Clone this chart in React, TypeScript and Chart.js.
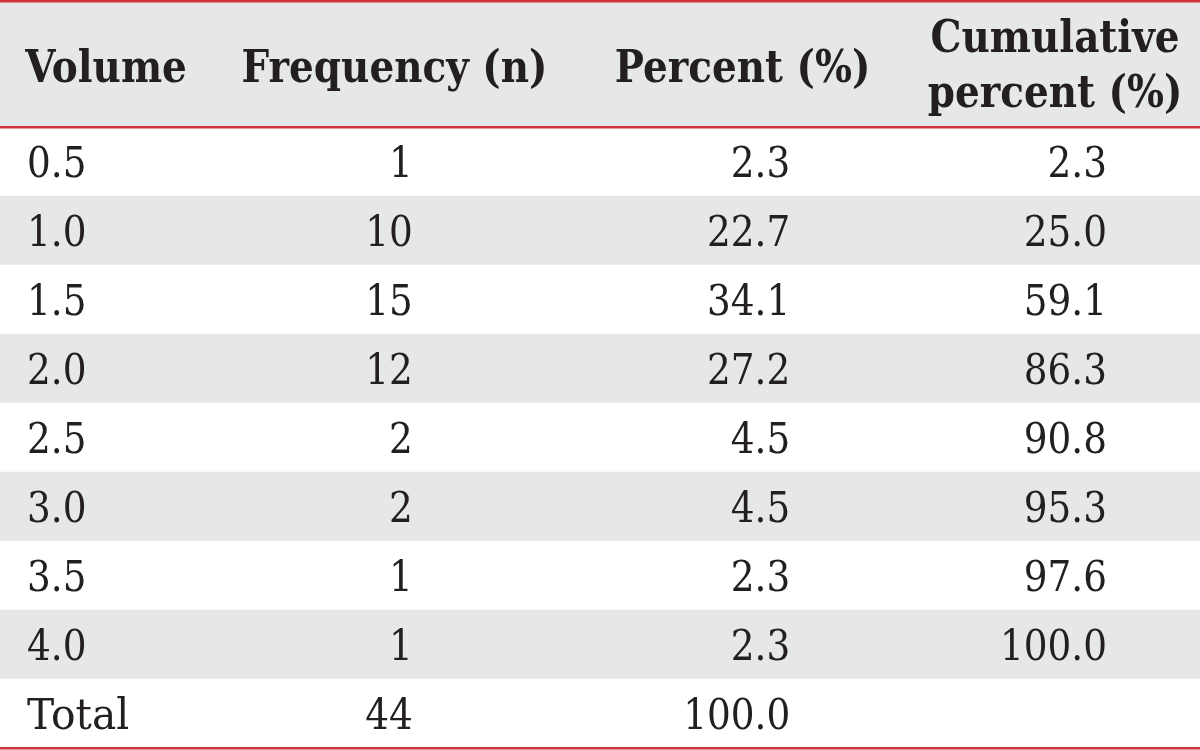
import React, { useEffect, useRef } from "react";
import { Chart, registerables } from "chart.js";

Chart.register(...registerables);

// ---- data ----
const volumes = ["0.5", "1.0", "1.5", "2.0", "2.5", "3.0", "3.5", "4.0"];
const frequency = [1, 10, 15, 12, 2, 2, 1, 1];
const percent = [2.3, 22.7, 34.1, 27.2, 4.5, 4.5, 2.3, 2.3];
const cumulative = [2.3, 25.0, 59.1, 86.3, 90.8, 95.3, 97.6, 100.0];
const totalLabel = "Total";
const totalFrequency = 44;
const totalPercent = 100.0;
const headers = [["Volume"], ["Frequency (n)"], ["Percent (%)"], ["Cumulative", "percent (%)"]];

// ---- layout / style ----
const HEADER_ROWS = 1.83;
const ROW_COUNT = volumes.length + 1;
const GRAY = "#e6e7e9";
const RED = "#d1343d";
const INK = "#231f20";
const FONT_FAMILY = "'DejaVu Serif', 'Liberation Serif', serif";
const BODY_SIZE = 42.5;
const HEAD_SIZE = 44;
const BODY_SQUEEZE = 0.88;
const HEAD_SQUEEZE = 0.885;
// column anchors in % of the table width
const COL_LEFT = 2.25; // left-aligned first column
const COL_RIGHT = [34.4, 65.85, 92.25]; // right-aligned value columns
const HEAD_LEFT = 2.1;
const HEAD_CENTER = [0, 32.88, 61.88, 87.92];

export default function App() {
  const canvasRef = useRef<HTMLCanvasElement | null>(null);

  useEffect(() => {
    document.body.style.margin = "0";
    const canvas = canvasRef.current;
    if (!canvas) return;

    const rowCenters = Array.from({ length: ROW_COUNT }, (_, i) => HEADER_ROWS + i + 0.5);
    const rowColors = rowCenters.map((_, i) => (i % 2 === 1 ? GRAY : "#ffffff"));

    const drawText = (ctx: CanvasRenderingContext2D, text: string, px: number, py: number, align: CanvasTextAlign, sx: number) => {
      ctx.save();
      ctx.translate(px, py);
      ctx.scale(sx, 1);
      ctx.textAlign = align;
      ctx.fillText(text, 0, 0);
      ctx.restore();
    };

    const tablePlugin = {
      id: "tableText",
      beforeDatasetsDraw(chart: any) {
        const { ctx, scales } = chart;
        const x = scales.x;
        const y = scales.y;
        ctx.save();
        ctx.fillStyle = GRAY;
        const top = y.getPixelForValue(0);
        const bottom = y.getPixelForValue(HEADER_ROWS);
        ctx.fillRect(x.getPixelForValue(0), top, x.getPixelForValue(100) - x.getPixelForValue(0), bottom - top);
        ctx.restore();
      },
      afterDatasetsDraw(chart: any) {
        const { ctx, scales } = chart;
        const x = scales.x;
        const y = scales.y;
        ctx.save();
        ctx.fillStyle = INK;
        ctx.textBaseline = "alphabetic";
        // header
        ctx.font = `bold ${HEAD_SIZE}px ${FONT_FAMILY}`;
        const hc = (y.getPixelForValue(0) + y.getPixelForValue(HEADER_ROWS)) / 2;
        headers.forEach((lines, ci) => {
          const offsets = lines.length === 1 ? [0.4] : [-0.28, 0.98];
          lines.forEach((line, li) => {
            const by = hc + offsets[li] * HEAD_SIZE;
            if (ci === 0) {
              drawText(ctx, line, x.getPixelForValue(HEAD_LEFT), by, "left", HEAD_SQUEEZE);
            } else {
              drawText(ctx, line, x.getPixelForValue(HEAD_CENTER[ci]), by, "center", HEAD_SQUEEZE);
            }
          });
        });
        // body
        ctx.font = `${BODY_SIZE}px ${FONT_FAMILY}`;
        const rows: string[][] = volumes.map((v, i) => [
          v,
          String(frequency[i]),
          percent[i].toFixed(1),
          cumulative[i].toFixed(1),
        ]);
        rows.push([totalLabel, String(totalFrequency), totalPercent.toFixed(1), ""]);
        rows.forEach((cells, ri) => {
          const by = y.getPixelForValue(rowCenters[ri]) + 0.36 * BODY_SIZE;
          drawText(ctx, cells[0], x.getPixelForValue(COL_LEFT), by, "left", cells[0] === totalLabel ? 0.96 : BODY_SQUEEZE);
          for (let c = 1; c < 4; c++) {
            if (cells[c]) drawText(ctx, cells[c], x.getPixelForValue(COL_RIGHT[c - 1]), by, "right", BODY_SQUEEZE);
          }
        });
        ctx.restore();
      },
    };

    const chart = new Chart(canvas, {
      type: "bar",
      data: {
        datasets: [
          {
            data: rowCenters.map((c) => ({ y: c, x: [0, 100] })) as any,
            backgroundColor: rowColors,
            borderWidth: 0,
            barPercentage: 1,
            categoryPercentage: 1,
          },
        ],
      },
      options: {
        indexAxis: "y",
        animation: false,
        responsive: true,
        maintainAspectRatio: false,
        layout: { padding: { top: 1, bottom: 2, left: 0, right: 0 } },
        plugins: { legend: { display: false }, tooltip: { enabled: false } },
        scales: {
          x: {
            type: "linear",
            min: 0,
            max: 100,
            offset: false,
            display: false,
          },
          y: {
            type: "linear",
            reverse: true,
            min: 0,
            max: HEADER_ROWS + ROW_COUNT,
            offset: false,
            afterBuildTicks: (scale: any) => {
              scale.ticks = [{ value: 0 }, { value: HEADER_ROWS }, { value: HEADER_ROWS + ROW_COUNT }];
            },
            ticks: { display: false },
            border: { display: false },
            grid: { color: RED, lineWidth: 2.5, drawTicks: false, offset: false, z: 1 },
          },
        },
      },
      plugins: [tablePlugin],
    });

    return () => chart.destroy();
  }, []);

  return (
    <div style={{ position: "absolute", left: 0, top: 0, width: 1200, height: 750 }}>
      <canvas ref={canvasRef} />
    </div>
  );
}
